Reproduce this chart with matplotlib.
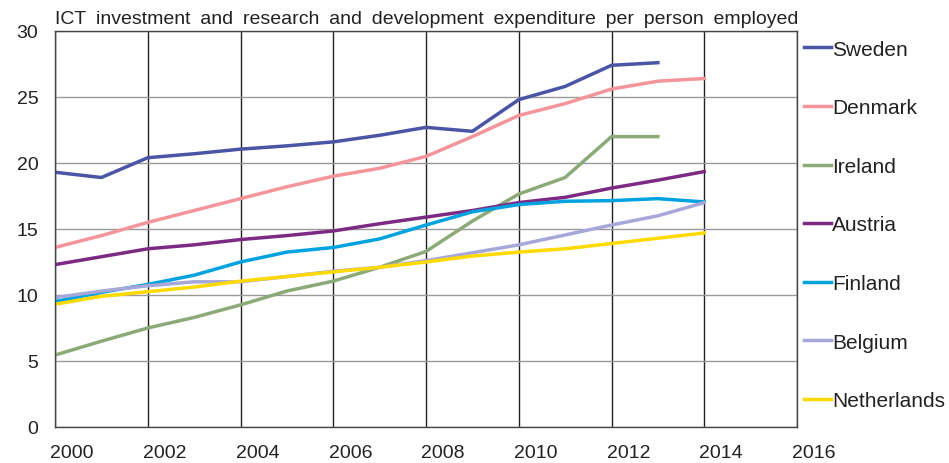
import matplotlib
matplotlib.use("Agg")
import matplotlib.pyplot as plt
import matplotlib.transforms as mtransforms
import numpy as np

plt.rcParams["font.family"] = ["Liberation Sans", "DejaVu Sans"]

years = list(range(2000, 2015))

countries = ["Sweden", "Denmark", "Ireland", "Austria", "Finland", "Belgium", "Netherlands"]
colors = ["#4A55A5", "#F4959B", "#8BAA78", "#7D2A84", "#00A3E0", "#A6A8D9", "#FFDA00"]

sweden = [19.3, 18.9, 20.4, 20.7, 21.05, 21.3, 21.6, 22.1, 22.7, 22.4, 24.8, 25.8, 27.4, 27.6, None]
denmark = [13.6, 14.5, 15.5, 16.4, 17.3, 18.2, 19.0, 19.6, 20.5, 22.0, 23.6, 24.5, 25.6, 26.2, 26.4]
ireland = [5.45, 6.5, 7.5, 8.3, 9.25, 10.3, 11.05, 12.1, 13.3, 15.6, 17.65, 18.9, 22.0, 22.0, None]
austria = [12.3, 12.9, 13.5, 13.8, 14.2, 14.5, 14.85, 15.4, 15.9, 16.4, 17.0, 17.4, 18.1, 18.7, 19.35]
finland = [9.5, 10.2, 10.8, 11.5, 12.5, 13.25, 13.6, 14.25, 15.3, 16.3, 16.85, 17.1, 17.15, 17.3, 17.05]
belgium = [9.8, 10.3, 10.7, 11.0, 11.0, 11.4, 11.8, 12.1, 12.6, 13.2, 13.8, 14.55, 15.3, 16.0, 17.0]
netherlands = [9.3, 9.9, 10.25, 10.6, 11.05, 11.4, 11.75, 12.1, 12.5, 12.95, 13.25, 13.5, 13.9, 14.3, 14.7]

series = [sweden, denmark, ireland, austria, finland, belgium, netherlands]

x_ticks = list(range(2000, 2017, 2))
y_ticks = list(range(0, 31, 5))

title = "ICT investment and research and development expenditure per person employed"

fig = plt.figure(figsize=(9.49, 4.64), dpi=100)
ax = fig.add_axes([55 / 949, 36 / 464, (797 - 55) / 949, (428 - 32) / 464])

for name, vals, col in zip(countries, series, colors):
    y = np.array([np.nan if v is None else v for v in vals], dtype=float)
    ax.plot(years, y, color=col, lw=2.5, label=name, solid_joinstyle="round")

ax.set_xlim(2000, 2016)
ax.set_ylim(0, 30)
ax.set_xticks(x_ticks)
ax.set_yticks(y_ticks)
ax.set_xticklabels([str(t) for t in x_ticks], fontsize=14, color="#222222")
ax.set_yticklabels([str(t) for t in y_ticks], fontsize=14, color="#222222")
ax.tick_params(axis="both", length=0)
ax.tick_params(axis="x", pad=12)
ax.tick_params(axis="y", pad=12)

# year labels sit a bit right of their gridlines in the original
offset = mtransforms.ScaledTranslation(17 / 100, 0, fig.dpi_scale_trans)
for lbl in ax.get_xticklabels():
    lbl.set_transform(lbl.get_transform() + offset)

ax.grid(axis="x", color="#222222", lw=1.0)
ax.grid(axis="y", color="#999999", lw=1.0)
ax.set_axisbelow(True)
for sp in ax.spines.values():
    sp.set_color("#444444")
    sp.set_linewidth(1.0)

# wider word gaps, as in the source image
ax.set_title(title.replace(" ", "\u2002"), loc="left", fontsize=14,
             color="#222222", pad=6, x=0.0)

leg = ax.legend(loc="upper left", bbox_to_anchor=(0.998, 0.999), frameon=False, fontsize=15,
                handlelength=1.3, handletextpad=0.05, labelspacing=1.9, borderaxespad=0.2,
                borderpad=0.2)
for t in leg.get_texts():
    t.set_color("#222222")

fig.savefig("out.png", dpi=100)
